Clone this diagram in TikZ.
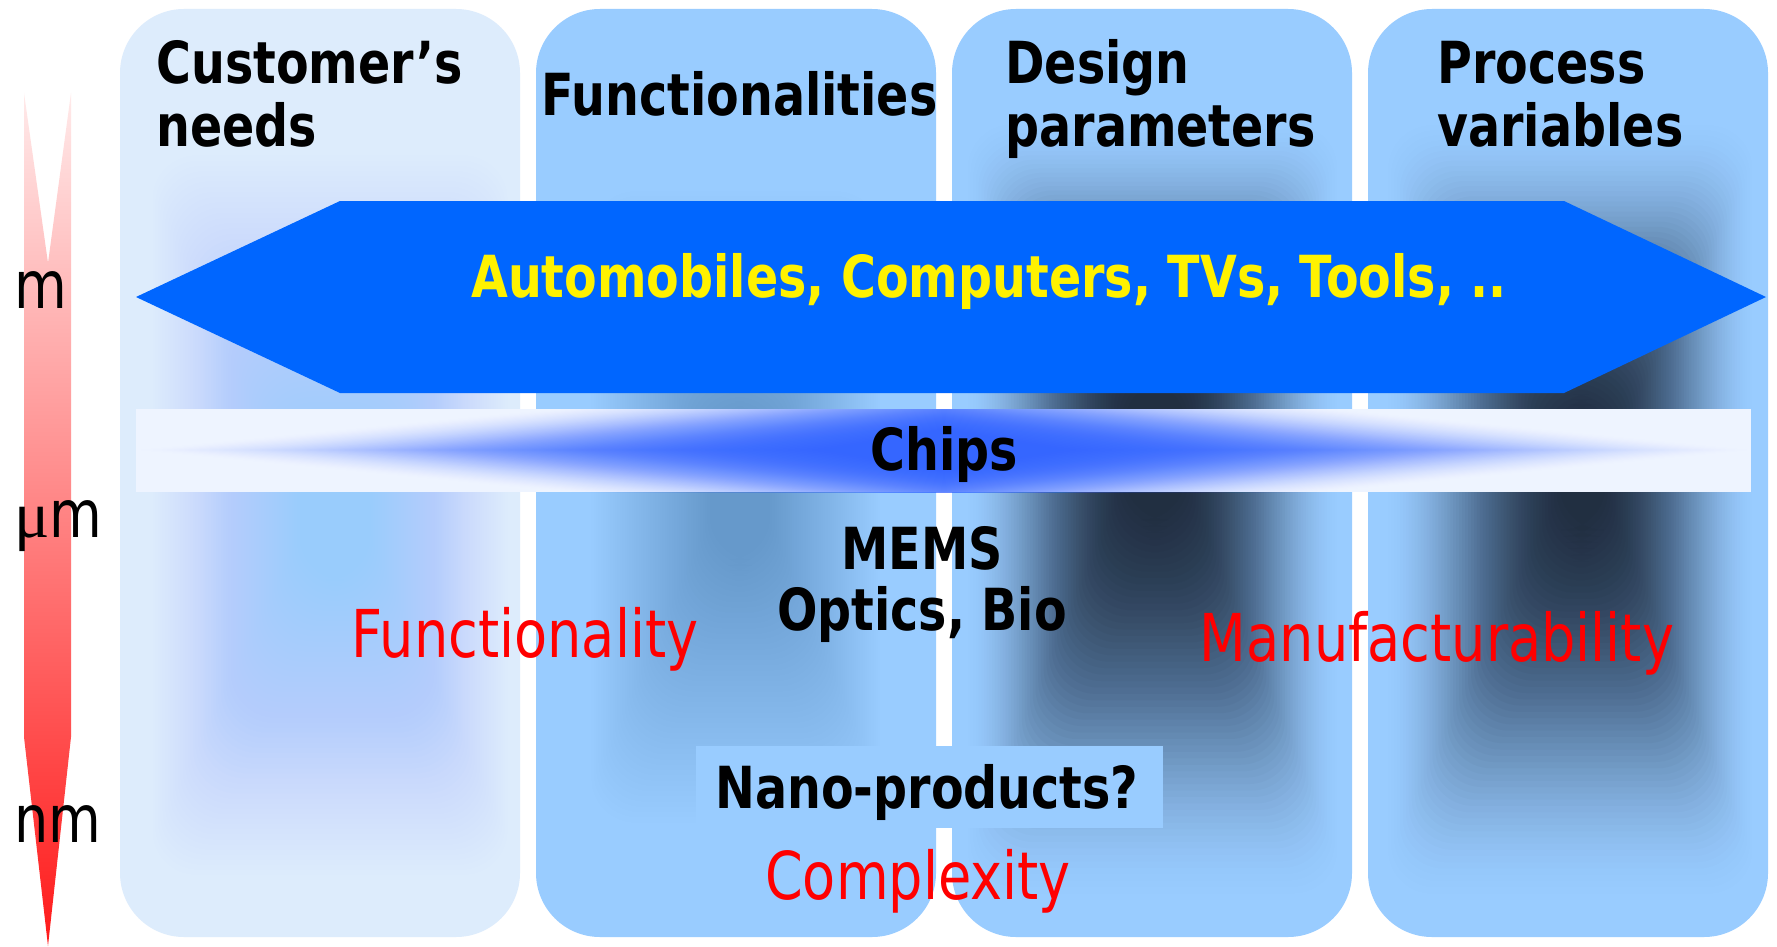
\documentclass[tikz,border=0pt]{standalone}
\usepackage{fontspec}
\newfontfamily\tf[FakeStretch=0.82]{DejaVu Sans}
\newfontfamily\muf{Liberation Serif}
\usetikzlibrary{calc}
\definecolor{colbase}{HTML}{99CCFF}
\definecolor{colpale}{HTML}{DDECFC}
\definecolor{glowdark}{HTML}{1A2433}
\definecolor{glowmid}{HTML}{3A5A80}
\definecolor{hexblue}{HTML}{0066FF}
\definecolor{chipbg}{HTML}{EEF4FF}
\definecolor{chipblue}{HTML}{3366FF}
\definecolor{arrtop}{HTML}{FFEAEA}
\definecolor{arrbot}{HTML}{FF1A1A}
% nested soft layers: outer corner 1, outer corner 2, inner corner 1, inner corner 2, colour, opacity factor
\newcommand{\glowlayers}[6]{%
  \foreach \i in {0,...,59}{%
    \pgfmathsetmacro{\gt}{\i/59}%
    \pgfmathsetmacro{\op}{#6*(\i+1)/60}%
    \fill[#5, fill opacity=\op, rounded corners=22pt] ($(#1)!\gt!(#3)$) rectangle ($(#2)!\gt!(#4)$);
  }}
% nested diamonds: centre x, centre y, outer half width, outer half height, inner half width, inner half height
\newcommand{\lenslayers}[6]{%
  \foreach \i in {0,...,59}{%
    \pgfmathsetmacro{\gt}{\i/59}%
    \pgfmathsetmacro{\op}{0.1*(\i+1)/60}%
    \pgfmathsetmacro{\hw}{#3+(#5-#3)*\gt}%
    \pgfmathsetmacro{\hh}{#4+(#6-#4)*\gt}%
    \pgfmathsetmacro{\xl}{#1-\hw}%
    \pgfmathsetmacro{\xr}{#1+\hw}%
    \pgfmathsetmacro{\yt}{#2-\hh}%
    \pgfmathsetmacro{\yb}{#2+\hh}%
    \fill[chipblue, fill opacity=\op] (\xl,#2) -- (#1,\yt) -- (\xr,#2) -- (#1,\yb) -- cycle;
  }}
\tikzset{
  hd/.style={font=\tf\bfseries\fontsize{29pt}{31.5pt}\selectfont, inner sep=0pt, align=left, anchor=base west},
  bd/.style={font=\tf\bfseries\fontsize{29pt}{32pt}\selectfont, inner sep=0pt, anchor=base},
  rd/.style={font=\tf\fontsize{33pt}{36pt}\selectfont, text=red, inner sep=0pt, anchor=base},
  lab/.style={font=\tf\fontsize{33pt}{36pt}\selectfont, inner sep=0pt, anchor=base west},
  column/.style={rounded corners=32pt}
}
\begin{document}
\begin{tikzpicture}[x=0.5pt, y=-0.5pt]
\useasboundingbox (0,0) rectangle (1777,947);
\fill[white] (0,0) rectangle (1777,947);
% columns
\fill[colpale, column] (120,9) rectangle (520,937);
\fill[colbase, column] (536,9) rectangle (936,937);
\fill[colbase, column] (952,9) rectangle (1352,937);
\fill[colbase, column] (1368,9) rectangle (1768,937);
% soft centre shading of the columns
\glowlayers{150,150}{510,880}{300,460}{370,580}{colbase}{0.062}
\glowlayers{570,150}{900,870}{710,420}{770,560}{glowmid}{0.012}
\glowlayers{965,120}{1340,900}{1125,380}{1185,520}{glowdark}{0.07}
\glowlayers{1385,120}{1755,900}{1560,420}{1605,530}{glowdark}{0.07}
% big double arrow
\fill[hexblue] (136,297) -- (340,201) -- (1564,201) -- (1766,297) -- (1564,393) -- (340,393) -- cycle;
% chips band
\fill[chipbg] (136,409) rectangle (1751,492);
\begin{scope}
  \clip (136,409) rectangle (1751,492);
  \lenslayers{944}{450}{820}{80}{120}{20}
\end{scope}
% nano box
\fill[colbase] (696,746) rectangle (1163,828);
% scale arrow
\shade[top color=arrtop, bottom color=arrbot] (24,93) -- (48,263) -- (71,93) -- (71,737) -- (48,946) -- (24,737) -- cycle;
% texts
\node[hd] (cust) at (156,147) {Customer’s\\needs};
\node[hd] (func) at (541,116) {Functionalities};
\node[hd] (design) at (1005,147) {Design\\parameters};
\node[hd] (proc) at (1437,147) {Process\\variables};
\node[bd, text=yellow] (auto) at (989,297) {Automobiles, Computers, TVs, Tools, ..};
\node[bd] (chips) at (944,470) {Chips};
\node[bd] (mems) at (922,569) {MEMS};
\node[bd] (optics) at (922,630) {Optics, Bio};
\node[bd] (nano) at (927,808) {Nano-products?};
\node[rd] (fy) at (525,657) {Functionality};
\node[rd] (mf) at (1437,661) {Manufacturability};
\node[rd] (cx) at (918,899) {Complexity};
\node[lab] (lm) at (14,308) {m};
\node[lab] (lum) at (14,537) {{\muf μ}m};
\node[lab] (lnm) at (14,842) {nm};
\end{tikzpicture}
\end{document}
